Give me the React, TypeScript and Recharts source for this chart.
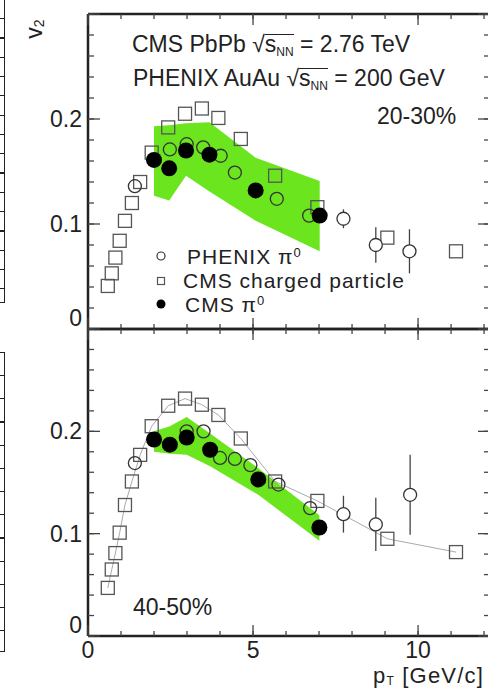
import React from 'react';
import { ComposedChart, Scatter, Area, Line, XAxis, YAxis, ErrorBar } from 'recharts';

// pT bins (GeV/c)
const chargedPt = [0.6, 0.72, 0.83, 0.96, 1.12, 1.33, 1.58, 1.93, 2.43, 2.94, 3.45, 3.95, 4.63, 5.67, 6.95, 9.07, 11.15];
// CMS charged particle v2
const charged2030 = [0.041, 0.053, 0.068, 0.084, 0.103, 0.12, 0.14, 0.168, 0.192, 0.205, 0.21, 0.201, 0.181, 0.146, 0.116, 0.087, 0.074];
const charged4050 = [0.047, 0.065, 0.081, 0.101, 0.128, 0.151, 0.177, 0.205, 0.225, 0.232, 0.226, 0.216, 0.193, 0.151, 0.132, 0.095, 0.082];

// PHENIX pi0 (AuAu 200 GeV)
const phenixPt2030 = [1.42, 2.48, 2.99, 3.49, 4.02, 4.45, 5.72, 6.7, 7.74, 8.72, 9.74];
const phenix2030 = [0.136, 0.171, 0.176, 0.173, 0.165, 0.149, 0.124, 0.108, 0.105, 0.08, 0.074];
const phenixErr2030 = [0, 0, 0, 0, 0, 0, 0, 0, 0.009, 0.017, 0.021];
const phenixPt4050 = [1.42, 2.99, 3.5, 4.0, 4.45, 4.92, 5.77, 6.73, 7.74, 8.72, 9.76];
const phenix4050 = [0.169, 0.2, 0.2, 0.174, 0.173, 0.167, 0.148, 0.125, 0.119, 0.109, 0.138];
const phenixErr4050 = [0, 0, 0, 0, 0, 0, 0, 0, 0.018, 0.026, 0.039];

// CMS pi0 with systematic band
const cmsPt2030 = [2.0, 2.46, 2.97, 3.68, 5.08, 7.02];
const cms2030 = [0.161, 0.153, 0.17, 0.166, 0.132, 0.108];
const cmsLo2030 = [0.127, 0.1225, 0.146, 0.131, 0.103, 0.074];
const cmsHi2030 = [0.193, 0.194, 0.196, 0.197, 0.163, 0.141];
const cmsPt4050 = [2.0, 2.48, 2.99, 3.7, 5.16, 7.01];
const cms4050 = [0.192, 0.187, 0.194, 0.182, 0.153, 0.106];
const cmsLo4050 = [0.18, 0.178, 0.177, 0.166, 0.138, 0.093];
const cmsHi4050 = [0.2, 0.205, 0.214, 0.198, 0.164, 0.118];

const xTicks = [0, 1, 2, 3, 4, 5, 6, 7, 8, 9, 10, 11, 12];
const xLabels = [0, 5, 10];
const yTicks = [0, 0.02, 0.04, 0.06, 0.08, 0.1, 0.12, 0.14, 0.16, 0.18, 0.2, 0.22, 0.24, 0.26, 0.28, 0.3];
const yLabels = [0, 0.1, 0.2];

const GREEN = '#6be51e';
const INK = '#222';
const TICK = '#444';
const FONT = '"Liberation Sans", Arial, sans-serif';
const X_DOMAIN = [0, 12.18];
const Y_DOMAIN = [0, 0.3];

const rows = (xs: number[], ys: number[], errs?: number[]) =>
  xs.map((x, i) => ({ x, y: ys[i], err: errs ? errs[i] : 0 }));
const bandRows = (xs: number[], lo: number[], hi: number[]) =>
  xs.map((x, i) => ({ x, lo: lo[i], hi: hi[i] }));

const tickLine = { stroke: TICK, strokeWidth: 1.3 };
const axisLine = { stroke: INK, strokeWidth: 2.5 };
const majorX = (v: number) => v % 5 === 0;
const majorY = (v: number) => Math.abs(v * 10 - Math.round(v * 10)) < 1e-6;

// native tick line gives the short (minor) tick; the custom tick adds the longer major tick and the label
const LeftTick = (props: any) => {
  const { x, y, payload } = props;
  const v = payload.value;
  const show = yLabels.some((l) => Math.abs(l - v) < 1e-6);
  return (
    <g>
      {majorY(v) && <line x1={x} x2={x + 12} y1={y} y2={y} stroke={TICK} strokeWidth={1.3} />}
      {show && (
        <text x={x - 6} y={v === 0 ? y - 11 : y} textAnchor="end" dominantBaseline="central"
          fontSize={23} fill={INK} fontFamily={FONT}>
          {v === 0 ? '0' : v.toFixed(1)}
        </text>
      )}
    </g>
  );
};
const RightTick = (props: any) => {
  const { x, y, payload } = props;
  return majorY(payload.value) ? <line x1={x} x2={x - 12} y1={y} y2={y} stroke={TICK} strokeWidth={1.3} /> : <g />;
};
const TopTick = (props: any) => {
  const { x, y, payload } = props;
  return majorX(payload.value) ? <line x1={x} x2={x} y1={y} y2={y + 11} stroke={TICK} strokeWidth={1.3} /> : <g />;
};
const makeBottomTick = (labels: boolean) => (props: any) => {
  const { x, y, payload } = props;
  const v = payload.value;
  return (
    <g>
      {majorX(v) && <line x1={x} x2={x} y1={y} y2={y - 11} stroke={TICK} strokeWidth={1.3} />}
      {labels && xLabels.includes(v) && (
        <text x={x} y={y + 14} textAnchor="middle" dominantBaseline="central"
          fontSize={23} fill={INK} fontFamily={FONT}>{v}</text>
      )}
    </g>
  );
};

const OpenSquare = (p: any) => (
  <rect x={p.cx - 6.5} y={p.cy - 6.5} width={13} height={13} fill="none" stroke="#555" strokeWidth={1.3} />
);
const OpenCircle = (p: any) => (
  <circle cx={p.cx} cy={p.cy} r={6.5} fill={p.payload && p.payload.err > 0 ? '#fff' : 'none'} stroke="#333" strokeWidth={1.3} />
);
const FilledCircle = (p: any) => <circle cx={p.cx} cy={p.cy} r={8} fill="#000" />;

function Panel(props: {
  charged: number[]; phenixPt: number[]; phenix: number[]; phenixErr: number[];
  cmsPt: number[]; cms: number[]; lo: number[]; hi: number[];
  height: number; margin: any; bottomHeight: number; labels: boolean; guide: boolean;
}) {
  const chargedRows = rows(chargedPt, props.charged);
  return (
    <ComposedChart width={492} height={props.height} margin={props.margin}>
      <XAxis xAxisId={0} dataKey="x" type="number" domain={X_DOMAIN} ticks={xTicks} interval={0}
        allowDataOverflow height={props.bottomHeight} tickSize={-5} tickMargin={5}
        tickLine={tickLine} axisLine={axisLine} tick={makeBottomTick(props.labels)} />
      <XAxis xAxisId="top" orientation="top" dataKey="x" type="number" domain={X_DOMAIN} ticks={xTicks}
        interval={0} allowDataOverflow height={1} tickSize={-5} tickMargin={5}
        tickLine={tickLine} axisLine={axisLine} tick={TopTick} />
      <YAxis yAxisId={0} type="number" domain={Y_DOMAIN} ticks={yTicks} interval={0} allowDataOverflow
        width={80} tickSize={-6} tickMargin={6} tickLine={tickLine} axisLine={axisLine} tick={LeftTick} />
      <YAxis yAxisId="right" orientation="right" type="number" domain={Y_DOMAIN} ticks={yTicks} interval={0}
        allowDataOverflow width={1} tickSize={-6} tickMargin={6} tickLine={tickLine} axisLine={axisLine}
        tick={RightTick} />

      <Area data={bandRows(props.cmsPt, props.lo, props.hi)} dataKey={(d: any) => [d.lo, d.hi]}
        type="linear" fill={GREEN} fillOpacity={1} stroke="none" isAnimationActive={false} />
      {props.guide && (
        <Line data={chargedRows} dataKey="y" type="linear" stroke="#aaa" strokeWidth={1}
          dot={false} activeDot={false} isAnimationActive={false} />
      )}
      <Scatter data={chargedRows} dataKey="y" shape={OpenSquare} isAnimationActive={false} />
      <Scatter data={rows(props.phenixPt, props.phenix, props.phenixErr)} dataKey="y" shape={OpenCircle}
        isAnimationActive={false}>
        <ErrorBar dataKey="err" direction="y" width={0} stroke="#444" strokeWidth={1.3} />
      </Scatter>
      <Scatter data={rows(props.cmsPt, props.cms)} dataKey="y" shape={FilledCircle} isAnimationActive={false} />
    </ComposedChart>
  );
}

const txt = (top: number, left: number, size = 23): React.CSSProperties => ({
  position: 'absolute', top, left, fontSize: size, lineHeight: '20px', whiteSpace: 'nowrap', color: INK,
});
const shifted = (size: number, dy: number): React.CSSProperties => ({
  fontSize: size, position: 'relative', top: dy, lineHeight: 0,
});

const Sqrt = () => (
  <span>
    √<span style={{ display: 'inline-block', borderTop: '1.5px solid #222', lineHeight: '19px', height: 19 }}>
      s<span style={shifted(12, 4)}>NN</span>
    </span>
  </span>
);

const legendText = { fontSize: 21, fill: INK, fontFamily: FONT, letterSpacing: 1 };

export default function App() {
  return (
    <div style={{ position: 'absolute', left: 0, top: 0, width: 488, height: 688, overflow: 'hidden',
      background: '#fff', fontFamily: FONT }}>
      {/* edge of the neighbouring figure */}
      <div style={{ position: 'absolute', left: 0, top: 0, width: 4, height: 302, borderRight: '1.5px solid #222',
        borderBottom: '1.5px solid #222',
        background: 'repeating-linear-gradient(to bottom, transparent 0px, transparent 18px, #222 18px, #222 19.3px)' }} />
      <div style={{ position: 'absolute', left: 0, top: 352, width: 4, height: 298, border: '1.5px solid #222',
        borderLeft: 'none',
        background: 'repeating-linear-gradient(to bottom, transparent 0px, transparent 22px, #222 22px, #222 23.2px)' }} />

      <div style={{ position: 'absolute', left: 0, top: 0 }}>
        <Panel charged={charged2030} phenixPt={phenixPt2030} phenix={phenix2030} phenixErr={phenixErr2030}
          cmsPt={cmsPt2030} cms={cms2030} lo={cmsLo2030} hi={cmsHi2030}
          height={340} margin={{ top: 13, right: 1, bottom: 10, left: 8 }} bottomHeight={1} labels={false} guide={false} />
      </div>
      <div style={{ position: 'absolute', left: 0, top: 300 }}>
        <Panel charged={charged4050} phenixPt={phenixPt4050} phenix={phenix4050} phenixErr={phenixErr4050}
          cmsPt={cmsPt4050} cms={cms4050} lo={cmsLo4050} hi={cmsHi4050}
          height={388} margin={{ top: 28, right: 1, bottom: 0, left: 8 }} bottomHeight={52} labels={true} guide={true} />
      </div>

      <svg style={{ position: 'absolute', left: 0, top: 0 }} width={488} height={688}>
        <text x={34} y={29} transform="rotate(-90 34 29)" textAnchor="middle" dominantBaseline="central"
          fontSize={23} fill={INK} fontFamily={FONT}>
          v<tspan fontSize={14} dy={5}>2</tspan>
        </text>

        <circle cx={161} cy={256} r={4} fill="none" stroke="#333" strokeWidth={1.2} />
        <rect x={157.5} y={277.5} width={7} height={7} fill="none" stroke="#555" strokeWidth={1.2} />
        <circle cx={161} cy={304} r={4.5} fill="#000" />
        <text x={187} y={263.5} {...legendText}>PHENIX π<tspan fontSize={13} dy={-7}>0</tspan></text>
        <text x={183} y={287.5} {...legendText}>CMS charged particle</text>
        <text x={185} y={311.5} {...legendText}>CMS π<tspan fontSize={13} dy={-7}>0</tspan></text>

        <text x={377} y={124} fontSize={23} fill={INK} fontFamily={FONT}>20-30%</text>
        <text x={133} y={615} fontSize={23} fill={INK} fontFamily={FONT}>40-50%</text>

        <text x={373} y={683} fontSize={22} fill={INK} fontFamily={FONT} letterSpacing={1.2}>
          p<tspan fontSize={12} dy={2}>T</tspan><tspan dy={-2}> [GeV/c]</tspan>
        </text>
      </svg>

      <div style={txt(34, 132)}>CMS PbPb <Sqrt /> = 2.76 TeV</div>
      <div style={txt(68, 133)}>PHENIX AuAu <Sqrt /> = 200 GeV</div>
    </div>
  );
}
